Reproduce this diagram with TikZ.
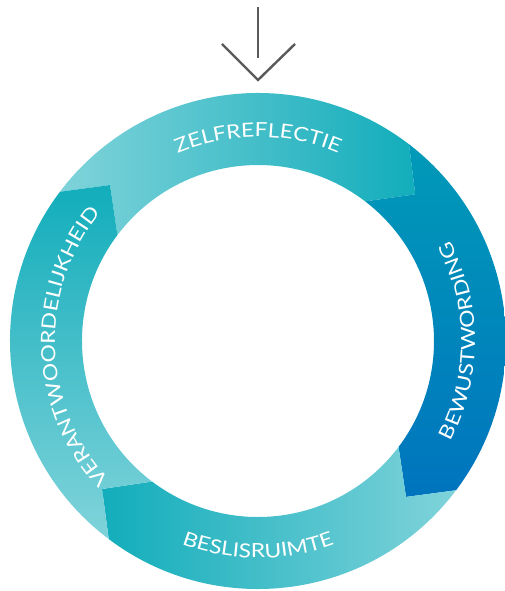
\documentclass[tikz,border=0pt]{standalone}
\usepackage{fontspec}
\newfontfamily\ringfont{Lato}[FakeStretch=1.17]
\usetikzlibrary{decorations.text}
\definecolor{tealdark}{HTML}{12ADBB}
\definecolor{teallight}{HTML}{80D3DA}
\definecolor{bluetop}{HTML}{009AB8}
\definecolor{bluebot}{HTML}{0074BE}
\definecolor{arrowgray}{HTML}{5A5A5A}
\begin{document}
\begin{tikzpicture}[x=1pt,y=1pt,
	seglabel/.style={decorate,decoration={text along path,text align=center,
		text={|\ringfont\fontsize{19.5}{22}\selectfont\color{white}|#1}}},
	arrowline/.style={draw=arrowgray,line width=2.4pt}]
	
	\useasboundingbox (0,0) rectangle (505,591);
	
	\begin{scope}[shift={(258,250)}]
	\shade[left color=teallight,right color=tealdark](143:248) arc[start angle=143,end angle=52.5,radius=248]--(43:215)--(52.5:176) arc[start angle=52.5,end angle=143,radius=176]--(133.5:215)--cycle;
	\shade[top color=bluetop,bottom color=bluebot](52.5:248) arc[start angle=52.5,end angle=-37,radius=248]--(-46.5:215)--(-37:176) arc[start angle=-37,end angle=52.5,radius=176]--(43:215)--cycle;
	\shade[left color=tealdark,right color=teallight](-37:248) arc[start angle=-37,end angle=-127,radius=248]--(-136.5:215)--(-127:176) arc[start angle=-127,end angle=-37,radius=176]--(-46.5:215)--cycle;
	\shade[top color=tealdark,bottom color=teallight](-127:248) arc[start angle=-127,end angle=-217,radius=248]--(-226.5:215)--(-217:176) arc[start angle=-217,end angle=-127,radius=176]--(-136.5:215)--cycle;
	
	\path[seglabel=ZELFREFLECTIE](135:204) arc[start angle=135,end angle=45,radius=204];
	\path[seglabel=BEWUSTWORDING](-45:217) arc[start angle=-45,end angle=45,radius=217];
	\path[seglabel=BESLISRUIMTE](-135:217) arc[start angle=-135,end angle=-45,radius=217];
	\path[seglabel=VERANTWOORDELIJKHEID](235:203) arc[start angle=235,end angle=129,radius=203];
	\end{scope}
	
	\coordinate (arrowtop) at (258,584);
	\coordinate (arrowend) at (258,533);
	\coordinate (tipleft) at (222,547);
	\coordinate (tip) at (258,511);
	\coordinate (tipright) at (295,547);
	\draw[arrowline](arrowtop)--(arrowend);
	\draw[arrowline](tipleft)--(tip)--(tipright);
\end{tikzpicture}
\end{document}
